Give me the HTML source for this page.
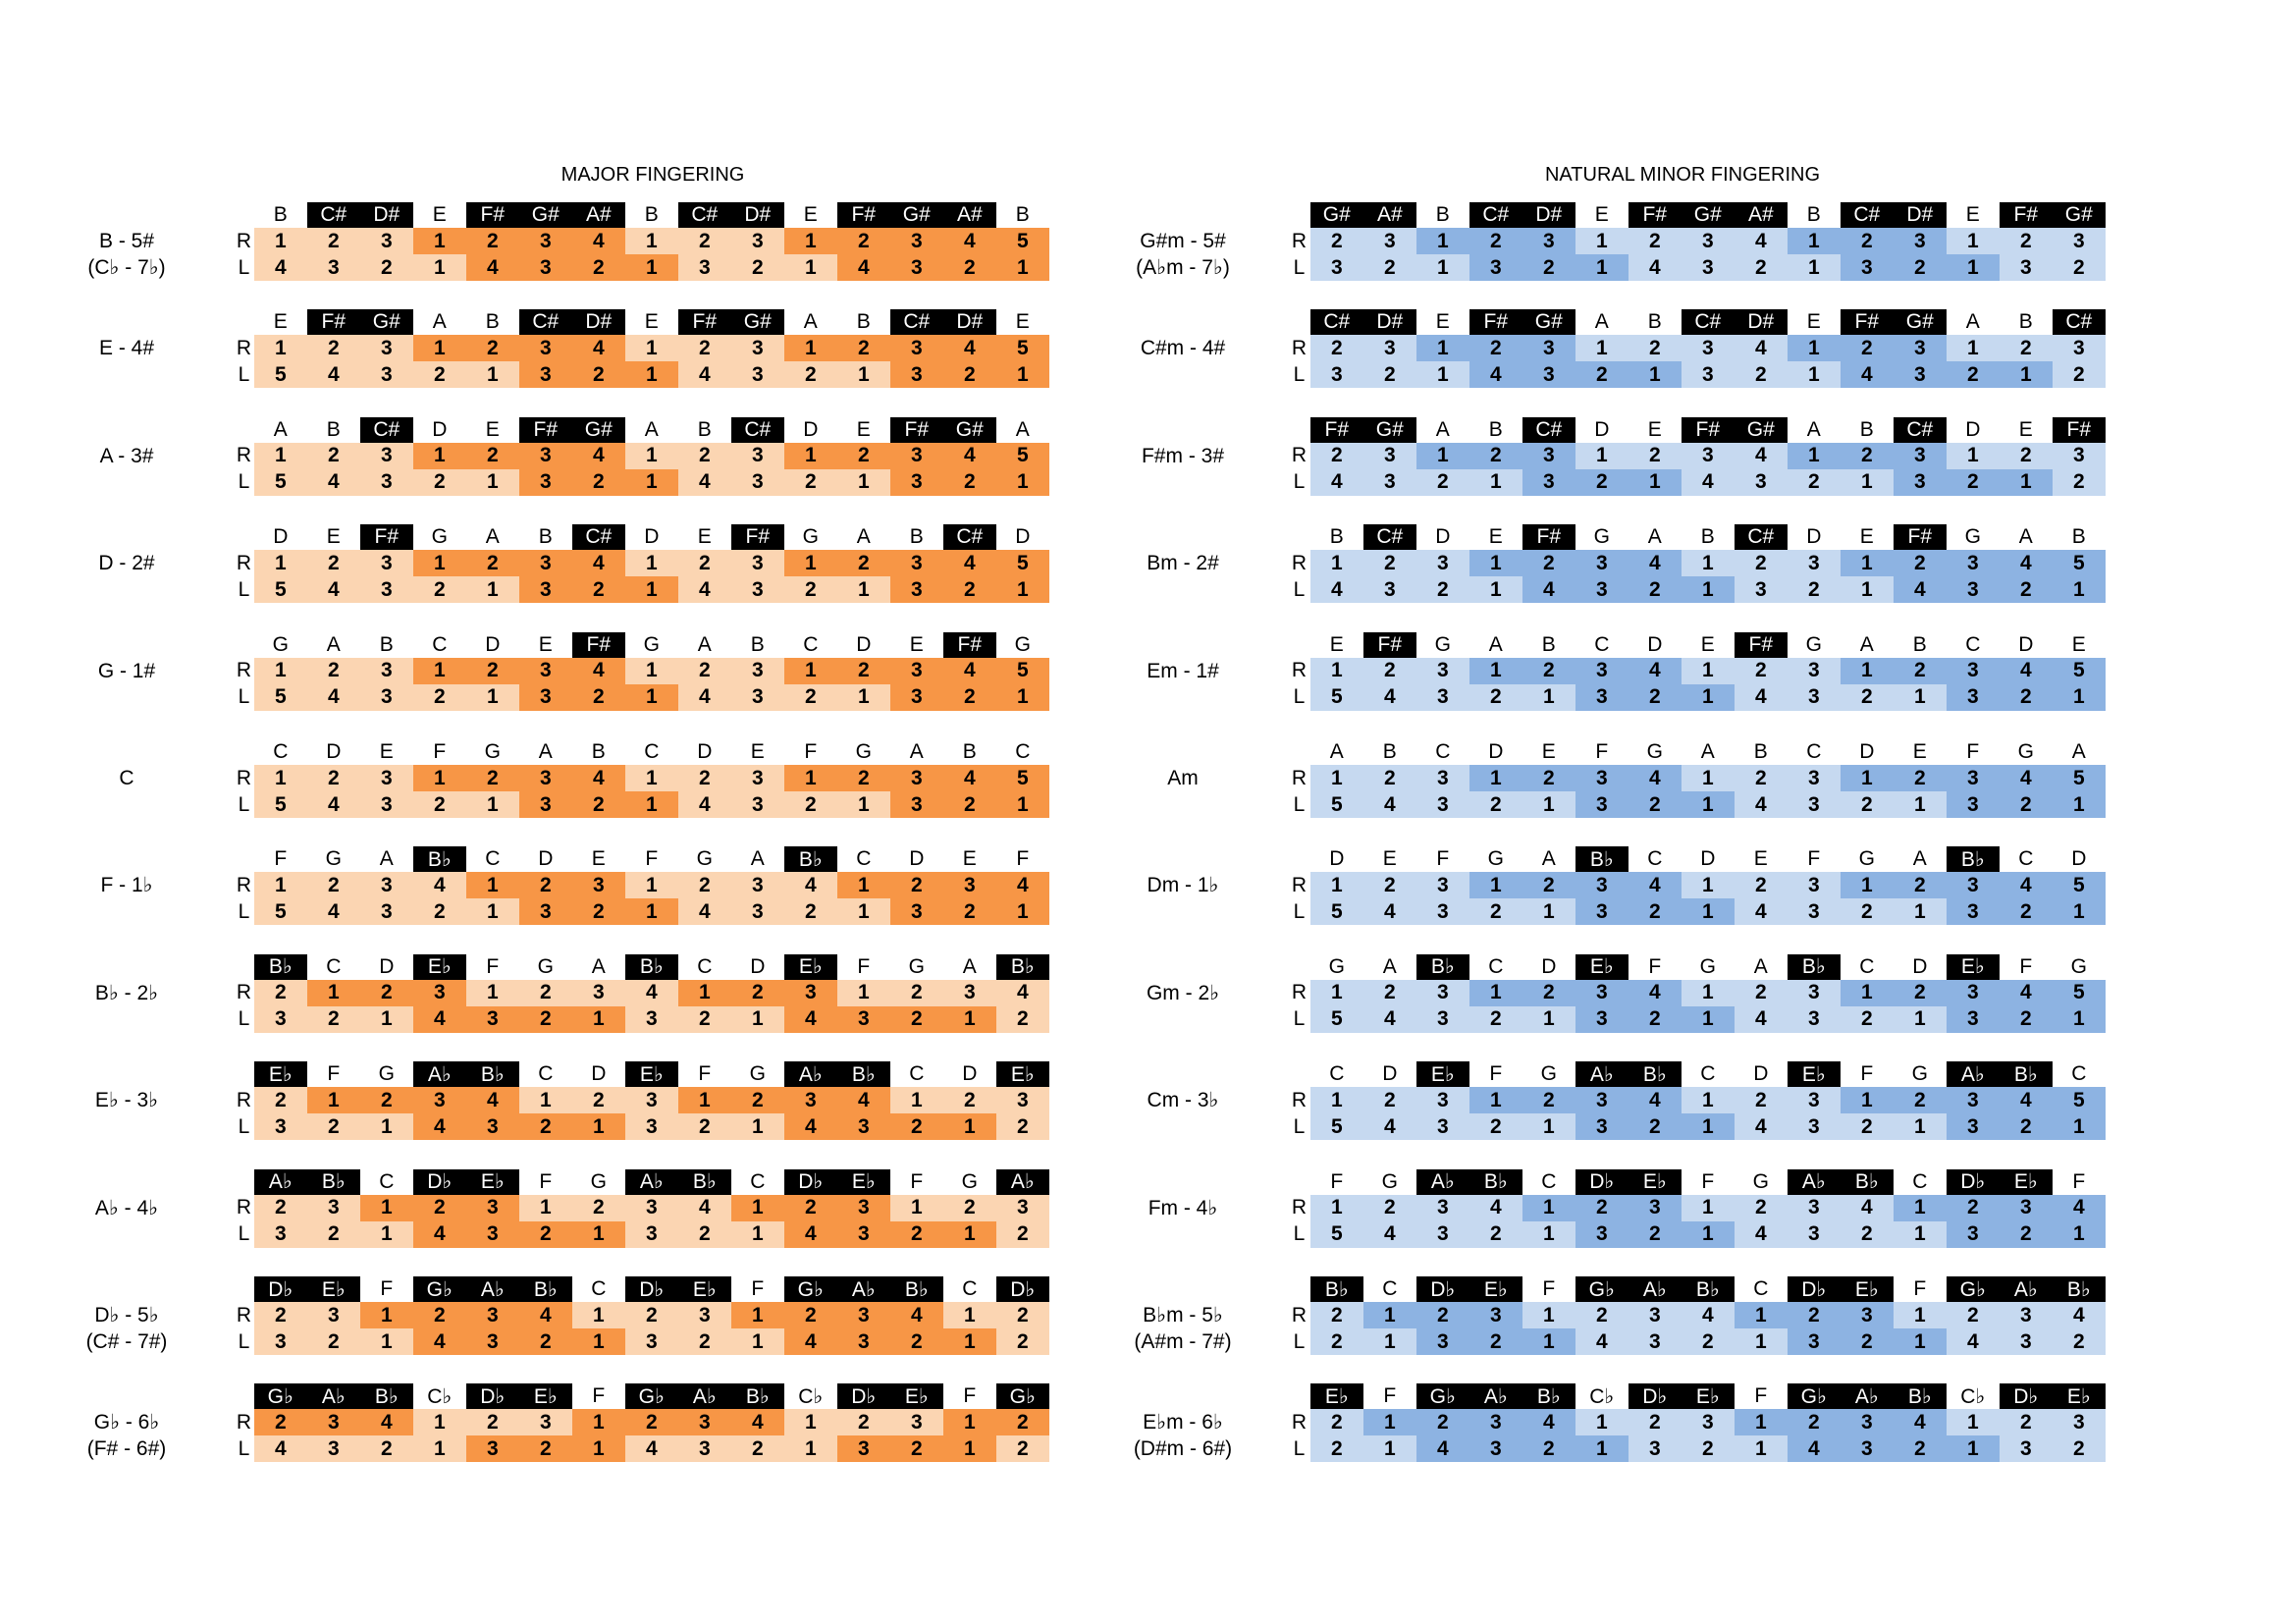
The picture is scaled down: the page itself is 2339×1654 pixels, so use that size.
<!DOCTYPE html>
<html><head><meta charset="utf-8">
<style>
html,body{margin:0;padding:0;background:#fff;}
#page{position:relative;width:2339px;height:1654px;overflow:hidden;font-family:"Liberation Sans","DejaVu Sans",sans-serif;color:#000;}
.t{position:absolute;font-size:20px;text-align:center;}
.c{position:absolute;display:flex;align-items:center;justify-content:center;font-size:21px;box-sizing:border-box;}
.h{font-size:21px;}
.f{font-weight:bold;}
.lab{position:absolute;font-size:21px;text-align:center;width:200px;line-height:27px;}
</style></head><body>
<div id="page">
<div class="t" style="left:465px;top:167px;width:400px;">MAJOR FINGERING</div>
<div class="t" style="left:1514px;top:167px;width:400px;">NATURAL MINOR FINGERING</div>
</div>
<script>
const F='\u266D';
const majorNames=[["B - 5#","(C"+F+" - 7"+F+")"],["E - 4#"],["A - 3#"],["D - 2#"],["G - 1#"],["C"],["F - 1"+F],["B"+F+" - 2"+F],["E"+F+" - 3"+F],["A"+F+" - 4"+F],["D"+F+" - 5"+F,"(C# - 7#)"],["G"+F+" - 6"+F,"(F# - 6#)"]];
const majorNotes=[["B","C#","D#","E","F#","G#","A#"],["E","F#","G#","A","B","C#","D#"],["A","B","C#","D","E","F#","G#"],["D","E","F#","G","A","B","C#"],["G","A","B","C","D","E","F#"],["C","D","E","F","G","A","B"],["F","G","A","B"+F,"C","D","E"],["B"+F,"C","D","E"+F,"F","G","A"],["E"+F,"F","G","A"+F,"B"+F,"C","D"],["A"+F,"B"+F,"C","D"+F,"E"+F,"F","G"],["D"+F,"E"+F,"F","G"+F,"A"+F,"B"+F,"C"],["G"+F,"A"+F,"B"+F,"C"+F,"D"+F,"E"+F,"F"]];
const majorR=["123123412312345","123123412312345","123123412312345","123123412312345","123123412312345","123123412312345","123412312341234","212312341231234","212341231234123","231231234123123","231234123123412","234123123412312"];
const majorRShade=["000111100011111","000111100011111","000111100011111","000111100011111","000111100011111","000111100011111","000011100001111","011100001110000","011110001111000","001110000111000","001111000111100","111000111100011"];
const majorL=["432143213214321","543213214321321","543213214321321","543213214321321","543213214321321","543213214321321","543213214321321","321432132143212","321432132143212","321432132143212","321432132143212","432132143213212"];
const majorLShade=["000011110001111","000001110000111","000001110000111","000001110000111","000001110000111","000001110000111","000001110000111","000111100011110","000111100011110","000111100011110","000111100011110","000011100001110"];
const minorNames=[["G#m - 5#","(A"+F+"m - 7"+F+")"],["C#m - 4#"],["F#m - 3#"],["Bm - 2#"],["Em - 1#"],["Am"],["Dm - 1"+F],["Gm - 2"+F],["Cm - 3"+F],["Fm - 4"+F],["B"+F+"m - 5"+F,"(A#m - 7#)"],["E"+F+"m - 6"+F,"(D#m - 6#)"]];
const minorNotes=[["G#","A#","B","C#","D#","E","F#"],["C#","D#","E","F#","G#","A","B"],["F#","G#","A","B","C#","D","E"],["B","C#","D","E","F#","G","A"],["E","F#","G","A","B","C","D"],["A","B","C","D","E","F","G"],["D","E","F","G","A","B"+F,"C"],["G","A","B"+F,"C","D","E"+F,"F"],["C","D","E"+F,"F","G","A"+F,"B"+F],["F","G","A"+F,"B"+F,"C","D"+F,"E"+F],["B"+F,"C","D"+F,"E"+F,"F","G"+F,"A"+F],["E"+F,"F","G"+F,"A"+F,"B"+F,"C"+F,"D"+F]];
const minorR=["231231234123123","231231234123123","231231234123123","123123412312345","123123412312345","123123412312345","123123412312345","123123412312345","123123412312345","123412312341234","212312341231234","212341231234123"];
const minorRShade=["001110000111000","001110000111000","001110000111000","000111100011111","000111100011111","000111100011111","000111100011111","000111100011111","000111100011111","000011100001111","011100001110000","011110001111000"];
const minorL=["321321432132132","321432132143212","432132143213212","432143213214321","543213214321321","543213214321321","543213214321321","543213214321321","543213214321321","543213214321321","213214321321432","214321321432132"];
const minorLShade=["000111000011100","000111100011110","000011100001110","000011110001111","000001110000111","000001110000111","000001110000111","000001110000111","000001110000111","000001110000111","001110000111000","001111000111100"];

const page=document.getElementById('page');
const CW=54.0, TOP=206, PITCH=109.4, HH=26, RH=27;
function mk(cls,x,y,w,h,txt,bg,col){
  const d=document.createElement('div');
  d.className=cls;
  d.style.left=x+'px';d.style.top=y+'px';d.style.width=w+'px';d.style.height=h+'px';
  if(bg)d.style.background=bg;
  if(col)d.style.color=col;
  d.textContent=txt;
  page.appendChild(d);
  return d;
}
function drawSide(x0,labX,nameX,names,notes,R,RS,L,LS,light,dark,side){
  for(let i=0;i<names.length;i++){
    const y=TOP+i*PITCH;
    const nm=document.createElement('div');
    nm.className='lab';
    
    
    nm.style.left=(nameX-100)+'px';
    nm.style.top=(y+HH)+'px';
    nm.innerHTML=names[i].join('<br>');
    page.appendChild(nm);
    const rl=mk('c',labX-12,y+HH,24,RH,'R');
    
    
    const ll=mk('c',labX-12,y+HH+RH,24,RH,'L');
    
    
    for(let j=0;j<15;j++){
      const n=notes[i][j%7];
      const blk=n.length>1 && n!=='C'+F;
      const x=x0+j*CW;
      const h=mk('c h',x,y,CW+0.6,HH,n,blk?'#000':null,blk?'#fff':'#000');
      
      
      const r=mk('c f',x,y+HH,CW+0.6,RH,R[i][j],RS[i][j]==='1'?dark:light);
      
      
      const l=mk('c f',x,y+HH+RH,CW+0.6,RH,L[i][j],LS[i][j]==='1'?dark:light);
      
      
    }
  }
}
drawSide(258.5,248.5,129,majorNames,majorNotes,majorR,majorRShade,majorL,majorLShade,'#fbd5b2','#f79646','major');
drawSide(1334.5,1323.5,1205,minorNames,minorNotes,minorR,minorRShade,minorL,minorLShade,'#c6d9f0','#8db3e2','minor');
</script>
</body></html>
